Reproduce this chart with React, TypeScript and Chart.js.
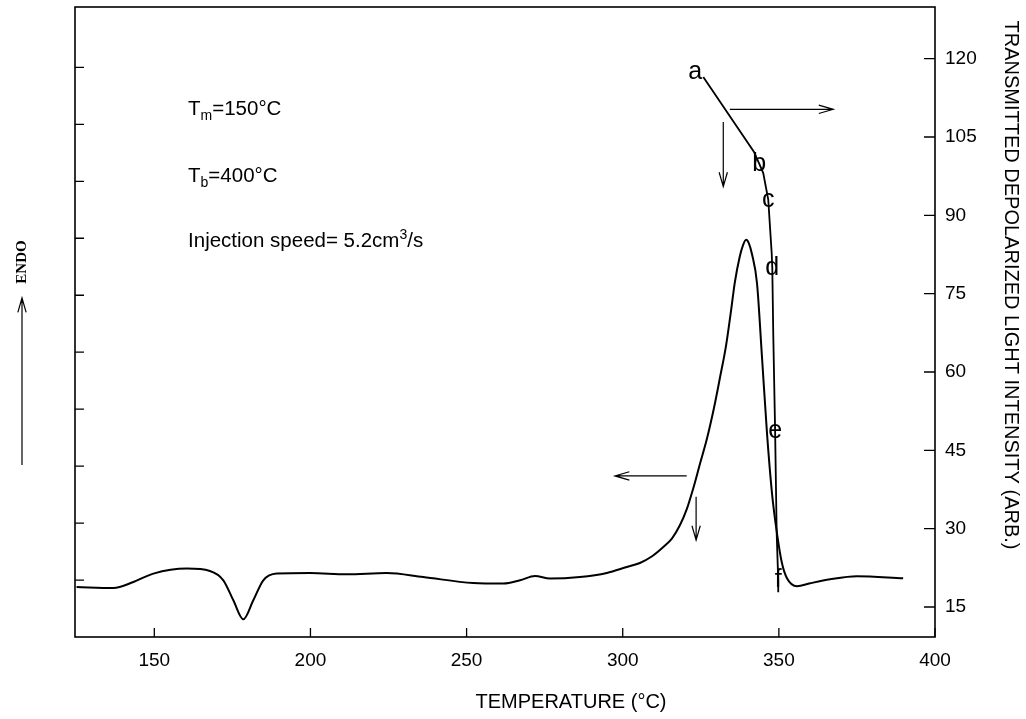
import React, { useEffect, useRef } from "react";
import { Chart, registerables } from "chart.js";
Chart.register(...registerables);

// ---- data ----
const xTicks = [150, 200, 250, 300, 350, 400];
const rightTicks = [15, 30, 45, 60, 75, 90, 105, 120];
const leftTicks = [1, 2, 3, 4, 5, 6, 7, 8, 9, 10];

// DSC trace (left, unlabeled axis)
const dscTemp = [
  125.1, 136.9, 143.3, 149.7, 160.4, 167.8, 172.1, 175.3, 178.5, 181.7, 184.9, 189.2,
  199.9, 211.6, 224.4, 236.1, 252.1, 261.8, 267.1, 271.9, 276.7, 286.3, 294.9, 301.3,
  305.5, 309.4, 312.9, 315.8, 318.3, 320.6, 322.5, 324.7, 327.0, 329.2, 331.1, 333.1,
  334.7, 335.9, 337.5, 338.5, 339.5, 340.4, 341.4, 343.0, 344.6, 346.2, 347.8, 349.4,
  351.0, 352.6, 355.8, 360.0, 366.4, 375.0, 389.8,
];
const dscSignal = [
  0.878, 0.86, 0.966, 1.113, 1.201, 1.159, 0.995, 0.644, 0.311, 0.644, 0.995, 1.113,
  1.124, 1.101, 1.124, 1.053, 0.948, 0.938, 0.995, 1.071, 1.025, 1.053, 1.124, 1.229,
  1.299, 1.417, 1.575, 1.733, 1.961, 2.259, 2.593, 3.032, 3.488, 4.015, 4.542, 5.121,
  5.736, 6.227, 6.684, 6.877, 6.973, 6.912, 6.719, 6.21, 4.911, 3.576, 2.523, 1.821,
  1.294, 1.031, 0.89, 0.943, 1.013, 1.066, 1.031,
];

// Transmitted depolarized light intensity (right axis)
const lightTemp = [325.8, 342.0, 343.7, 345.0, 346.6, 347.7, 347.9, 348.2, 348.8, 349.3, 349.8, 349.8];
const lightIntensity = [116.5, 102.2, 99.9, 98.1, 93.0, 82.8, 79.8, 67.4, 48.7, 29.1, 20.1, 17.8];
const lightLabels = ["a", "", "b", "", "c", "", "d", "", "e", "", "f", ""];

// Direction arrows (temperature, right-axis intensity)
const arrowStartT = [334.3, 332.2, 320.5, 323.5];
const arrowStartI = [110.3, 107.9, 40.1, 36.1];
const arrowEndT = [367.4, 332.2, 297.5, 323.5];
const arrowEndI = [110.3, 95.5, 40.1, 27.8];

// Notes
type Part = { t: string; k: "n" | "sub" | "sup" };
const noteParts: Part[][] = [
  [{ t: "T", k: "n" }, { t: "m", k: "sub" }, { t: "=150°C", k: "n" }],
  [{ t: "T", k: "n" }, { t: "b", k: "sub" }, { t: "=400°C", k: "n" }],
  [{ t: "Injection speed= 5.2cm", k: "n" }, { t: "3", k: "sup" }, { t: "/s", k: "n" }],
];
const noteT = [160.8, 160.8, 160.8];
const noteI = [109.2, 96.4, 84.0];

const xTitle = "TEMPERATURE (°C)";
const rightTitle = "TRANSMITTED DEPOLARIZED LIGHT INTENSITY (ARB.)";
const leftTitle = "ENDO";

const SANS = '"Liberation Sans", Arial, Helvetica, sans-serif';
const SERIF = '"Liberation Serif", "Times New Roman", serif';

function arrow(ctx: CanvasRenderingContext2D, x1: number, y1: number, x2: number, y2: number) {
  const ang = Math.atan2(y2 - y1, x2 - x1);
  const L = 15;
  const w = 0.28;
  ctx.beginPath();
  ctx.moveTo(x1, y1);
  ctx.lineTo(x2, y2);
  ctx.moveTo(x2 - L * Math.cos(ang - w), y2 - L * Math.sin(ang - w));
  ctx.lineTo(x2, y2);
  ctx.lineTo(x2 - L * Math.cos(ang + w), y2 - L * Math.sin(ang + w));
  ctx.stroke();
}

function drawRich(ctx: CanvasRenderingContext2D, x: number, y: number, parts: Part[]) {
  let cx = x;
  for (const p of parts) {
    const size = p.k === "n" ? 20.5 : 14;
    ctx.font = `${size}px ${SANS}`;
    const dy = p.k === "sub" ? 5 : p.k === "sup" ? -8 : 0;
    ctx.fillText(p.t, cx, y + dy);
    cx += ctx.measureText(p.t).width;
  }
}

const decor = {
  id: "decor",
  afterDraw(chart: any) {
    const { ctx, chartArea: a, scales } = chart;
    const xs = scales.x, yl = scales.yL, yr = scales.yR;
    ctx.save();
    ctx.strokeStyle = "#000";
    ctx.fillStyle = "#000";
    ctx.lineWidth = 1.6;
    ctx.strokeRect(a.left, a.top, a.right - a.left, a.bottom - a.top);

    // inward tick marks
    ctx.lineWidth = 1.3;
    ctx.beginPath();
    xTicks.forEach((v) => {
      const px = xs.getPixelForValue(v);
      ctx.moveTo(px, a.bottom);
      ctx.lineTo(px, a.bottom - 9);
    });
    leftTicks.forEach((v) => {
      const py = yl.getPixelForValue(v);
      ctx.moveTo(a.left, py);
      ctx.lineTo(a.left + 9, py);
    });
    rightTicks.forEach((v) => {
      const py = yr.getPixelForValue(v);
      ctx.moveTo(a.right, py);
      ctx.lineTo(a.right - 11, py);
    });
    ctx.stroke();

    // letters on the light-intensity curve
    ctx.font = `25px ${SANS}`;
    ctx.textAlign = "center";
    ctx.textBaseline = "middle";
    lightLabels.forEach((s, i) => {
      if (!s) return;
      let px = xs.getPixelForValue(lightTemp[i]);
      let py = yr.getPixelForValue(lightIntensity[i]);
      if (i === 0) { px -= 8; py -= 5; }
      ctx.fillText(s, px, py);
    });

    // arrows
    ctx.lineWidth = 1.2;
    for (let i = 0; i < arrowStartT.length; i++) {
      arrow(
        ctx,
        xs.getPixelForValue(arrowStartT[i]), yr.getPixelForValue(arrowStartI[i]),
        xs.getPixelForValue(arrowEndT[i]), yr.getPixelForValue(arrowEndI[i])
      );
    }

    // notes
    ctx.textAlign = "left";
    ctx.textBaseline = "alphabetic";
    noteParts.forEach((parts, i) => {
      drawRich(ctx, xs.getPixelForValue(noteT[i]), yr.getPixelForValue(noteI[i]), parts);
    });

    // axis titles
    ctx.textAlign = "center";
    ctx.textBaseline = "middle";
    ctx.font = `20px ${SANS}`;
    ctx.fillText(xTitle, 571, 702);

    ctx.save();
    ctx.translate(1011, 285);
    ctx.rotate(Math.PI / 2);
    ctx.font = `20px ${SANS}`;
    ctx.fillText(rightTitle, 0, 0);
    ctx.restore();

    ctx.save();
    ctx.translate(22, 262);
    ctx.rotate(-Math.PI / 2);
    ctx.font = `bold 15px ${SERIF}`;
    ctx.fillText(leftTitle, 0, 0);
    ctx.restore();

    ctx.lineWidth = 1.2;
    arrow(ctx, 22, 465, 22, 298);

    ctx.restore();
  },
};

function zeroPad(s: any) {
  s.paddingTop = 0;
  s.paddingBottom = 0;
  s.paddingLeft = 0;
  s.paddingRight = 0;
}

export default function App() {
  const ref = useRef<HTMLCanvasElement>(null);
  useEffect(() => {
    const chart = new Chart(ref.current!, {
      type: "line",
      data: {
        datasets: [
          {
            label: "DSC",
            data: dscTemp.map((t, i) => ({ x: t, y: dscSignal[i] })),
            yAxisID: "yL",
            borderColor: "#000",
            borderWidth: 2,
            pointRadius: 0,
            cubicInterpolationMode: "monotone",
            fill: false,
          },
          {
            label: "Light",
            data: lightTemp.map((t, i) => ({ x: t, y: lightIntensity[i] })),
            yAxisID: "yR",
            borderColor: "#000",
            borderWidth: 1.8,
            pointRadius: 0,
            tension: 0,
            fill: false,
          },
        ],
      },
      options: {
        responsive: true,
        maintainAspectRatio: false,
        animation: false,
        layout: { padding: { top: 7, left: 0, right: 0, bottom: 0 } },
        plugins: { legend: { display: false }, tooltip: { enabled: false } },
        scales: {
          x: {
            type: "linear",
            min: 124.6,
            max: 400,
            grid: { display: false, drawTicks: false },
            border: { display: false },
            afterBuildTicks: (s: any) => { s.ticks = xTicks.map((v) => ({ value: v })); },
            afterFit: (s: any) => { s.height = 82; zeroPad(s); },
            ticks: {
              font: { family: SANS, size: 19 },
              color: "#000",
              padding: 12,
              maxRotation: 0,
              autoSkip: false,
            },
          },
          yL: {
            type: "linear",
            position: "left",
            min: 0,
            max: 11.06,
            grid: { display: false, drawTicks: false },
            border: { display: false },
            ticks: { display: false },
            afterBuildTicks: (s: any) => { s.ticks = leftTicks.map((v) => ({ value: v })); },
            afterFit: (s: any) => { s.width = 75; zeroPad(s); },
          },
          yR: {
            type: "linear",
            position: "right",
            min: 9.25,
            max: 129.9,
            grid: { display: false, drawTicks: false },
            border: { display: false },
            afterBuildTicks: (s: any) => { s.ticks = rightTicks.map((v) => ({ value: v })); },
            afterFit: (s: any) => { s.width = 91; zeroPad(s); },
            ticks: {
              font: { family: SANS, size: 19 },
              color: "#000",
              padding: 10,
              autoSkip: false,
            },
          },
        },
      },
      plugins: [decor],
    } as any);
    return () => chart.destroy();
  }, []);
  return (
    <div style={{ position: "fixed", left: 0, top: 0, width: 1026, height: 719, background: "#fff" }}>
      <canvas ref={ref} />
    </div>
  );
}
